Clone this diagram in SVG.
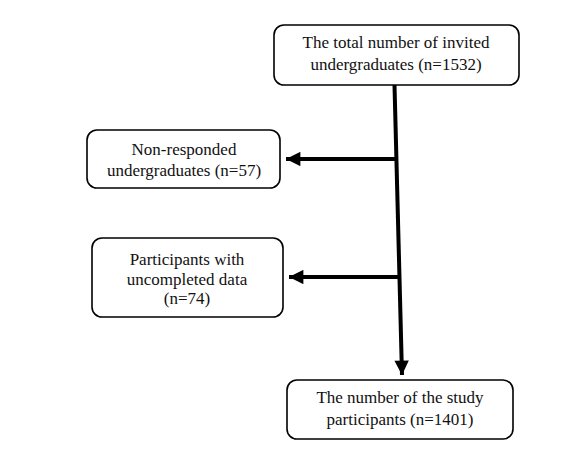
<svg xmlns="http://www.w3.org/2000/svg" width="587" height="455" viewBox="0 0 587 455">
<style>
.box{fill:#fff;stroke:#000;stroke-width:1.6}
.t{font-family:"Liberation Serif","Times New Roman",serif;font-size:17px;fill:#111;text-anchor:middle}
.ln{stroke:#000;stroke-width:4;fill:none}
</style>
<defs>
<marker id="ah" viewBox="0 0 10 10" refX="10" refY="5" markerWidth="4" markerHeight="3.6" orient="auto" markerUnits="strokeWidth">
<path d="M0,0 L10,5 L0,10 Z" fill="#000"/>
</marker>
</defs>
<rect width="587" height="455" fill="#fff"/>
<g id="connectors">
<line class="ln" x1="394.5" y1="85" x2="402" y2="375" marker-end="url(#ah)"/>
<line class="ln" x1="396" y1="159" x2="286" y2="159" marker-end="url(#ah)"/>
<line class="ln" x1="399" y1="277" x2="289" y2="277" marker-end="url(#ah)"/>
</g>
<g id="n1">
<rect class="box" x="274" y="25" width="245" height="60" rx="10"/>
<text class="t" x="396" y="48">The total number of invited</text>
<text class="t" x="396" y="70">undergraduates (n=1532)</text>
</g>
<g id="n2">
<rect class="box" x="87" y="130" width="193" height="58" rx="10"/>
<text class="t" x="184" y="155">Non-responded</text>
<text class="t" x="184" y="176">undergraduates (n=57)</text>
</g>
<g id="n3">
<rect class="box" x="92" y="238" width="191" height="79" rx="10"/>
<text class="t" x="187" y="265">Participants with</text>
<text class="t" x="187" y="285">uncompleted data</text>
<text class="t" x="187" y="304">(n=74)</text>
</g>
<g id="n4">
<rect class="box" x="287" y="380" width="226" height="59" rx="10"/>
<text class="t" x="400" y="403">The number of the study</text>
<text class="t" x="400" y="425">participants (n=1401)</text>
</g>
</svg>
